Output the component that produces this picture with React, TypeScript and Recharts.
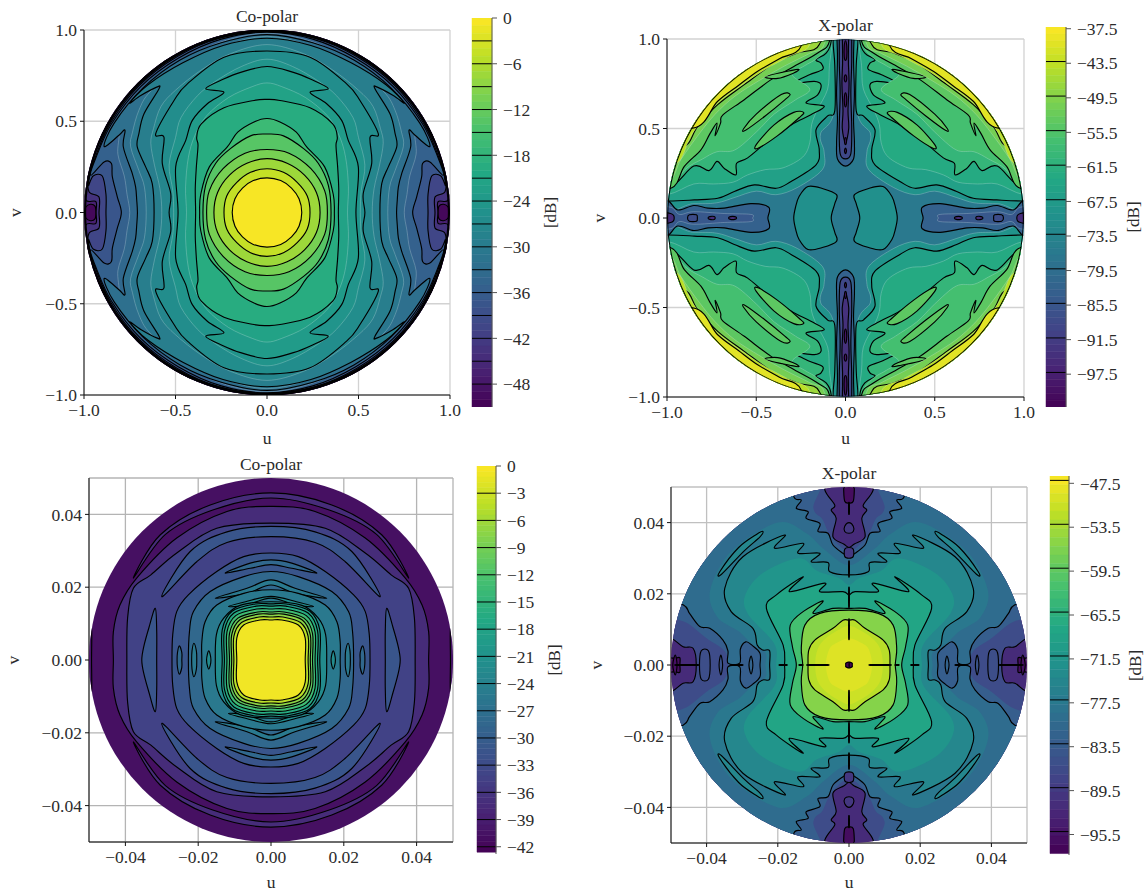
import { ScatterChart, BarChart, Scatter, Bar, XAxis, YAxis, CartesianGrid, ReferenceLine } from "recharts";

type Pt = [number, number];
type Kind = "ring" | "uLobe" | "vLobe" | "island";
type Contour = { level: number; kind: Kind; pts: Pt[]; fillDb?: number; line?: string; noFill?: boolean; width?: number };

const FONT = "'Liberation Serif', serif";
const FAINT = "rgba(225,240,240,0.38)";
const VIRIDIS = ["#440154", "#482475", "#414487", "#355f8d", "#2a788e", "#21918c", "#22a884", "#44bf70", "#7ad151", "#bddf26", "#fde725"];

function hex(c: string) {
  return [1, 3, 5].map((i) => parseInt(c.slice(i, i + 2), 16));
}
function viridis(t: number) {
  const x = Math.max(0, Math.min(0.9999, t)) * 10;
  const i = Math.floor(x);
  const a = hex(VIRIDIS[i]);
  const b = hex(VIRIDIS[i + 1]);
  const m = a.map((v, k) => Math.round(v + (b[k] - v) * (x - i)));
  return `rgb(${m[0]},${m[1]},${m[2]})`;
}

// ---------- tick labels and levels ----------
const wideTicks = [-1, -0.5, 0, 0.5, 1];
const wideMinor = [-0.9, -0.8, -0.7, -0.6, -0.4, -0.3, -0.2, -0.1, 0.1, 0.2, 0.3, 0.4, 0.6, 0.7, 0.8, 0.9];
const narrowTicks = [-0.04, -0.02, 0, 0.02, 0.04];
const narrowMinor = [-0.05, -0.045, -0.035, -0.03, -0.025, -0.015, -0.01, -0.005, 0.005, 0.01, 0.015, 0.025, 0.03, 0.035, 0.045, 0.05];

const barTicks1 = [0, -6, -12, -18, -24, -30, -36, -42, -48];
const barLines1 = [-3, -6, -9, -12, -15, -18, -21, -24, -27, -30, -33, -36, -39, -42, -45, -48];
const barTicks2 = [-37.5, -43.5, -49.5, -55.5, -61.5, -67.5, -73.5, -79.5, -85.5, -91.5, -97.5];
const barLines2 = [-43.2, -49.2, -55.2, -61.2, -67.2, -73.2, -79.2, -85.2, -91.2, -97.2];
const barTicks3 = [0, -3, -6, -9, -12, -15, -18, -21, -24, -27, -30, -33, -36, -39, -42];
const barLines3 = [-3, -6, -9, -12, -15, -18, -21, -24, -27, -30, -33, -36, -39, -42];
const barTicks4 = [-47.5, -53.5, -59.5, -65.5, -71.5, -77.5, -83.5, -89.5, -95.5];
const barLines4 = [-47.1, -53.1, -59.1, -65.1, -71.1, -77.1, -83.1, -89.1, -95.1];

// ---------- top left, co-polar, first quadrant of each contour ----------
const coWide: Contour[] = [
  { level: -51, kind: "ring", pts: [[1.3, 0], [1.3, 1.3], [0, 1.3]], line: "none" },
  { level: -48, kind: "ring", pts: [[0.985, 0], [1.05, 0.1], [1.05, 1.05], [0, 1.05]], line: "none" },
  { level: -45, kind: "ring", pts: [[0.935, 0], [0.935, 0.06], [0.99, 0.07], [0.98, 0.2], [0.87, 0.5], [0.71, 0.71], [0.5, 0.87], [0.26, 0.97], [0, 1.0]] },
  { level: -42, kind: "ring", pts: [[0.918, 0], [0.918, 0.085], [0.972, 0.113], [0.965, 0.2], [0.86, 0.495], [0.703, 0.703], [0.495, 0.86], [0.26, 0.96], [0, 0.996]] },
  { level: -39, kind: "ring", pts: [[0.88, 0], [0.88, 0.1], [0.9, 0.2], [0.95, 0.2], [0.975, 0.15], [0.95, 0.27], [0.855, 0.49], [0.697, 0.697], [0.49, 0.855], [0.26, 0.955], [0, 0.992]] },
  { level: -36, kind: "ring", fillDb: -35.3, pts: [[0.796, 0], [0.818, 0.086], [0.845, 0.195], [0.85, 0.268], [0.89, 0.277], [0.963, 0.204], [0.935, 0.3], [0.85, 0.485], [0.69, 0.69], [0.485, 0.845], [0.25, 0.95], [0, 0.988]] },
  { level: -34.5, kind: "ring", fillDb: -33.8, line: FAINT, pts: [[0.75, 0], [0.765, 0.1], [0.78, 0.2], [0.815, 0.32], [0.81, 0.43], [0.86, 0.39], [0.78, 0.56], [0.68, 0.68], [0.48, 0.82], [0.25, 0.935], [0, 0.982]] },
  { level: -33, kind: "ring", fillDb: -32.3, pts: [[0.708, 0], [0.712, 0.07], [0.718, 0.14], [0.736, 0.213], [0.785, 0.359], [0.776, 0.45], [0.809, 0.423], [0.89, 0.362], [0.835, 0.49], [0.68, 0.68], [0.475, 0.835], [0.25, 0.93], [0, 0.975]] },
  { level: -31.5, kind: "ring", fillDb: -30.8, line: FAINT, pts: [[0.66, 0], [0.67, 0.14], [0.7, 0.23], [0.745, 0.36], [0.735, 0.44], [0.7, 0.56], [0.64, 0.66], [0.48, 0.79], [0.24, 0.91], [0, 0.965]] },
  { level: -30, kind: "ring", fillDb: -29.3, pts: [[0.617, 0], [0.627, 0.158], [0.663, 0.25], [0.709, 0.359], [0.7, 0.432], [0.672, 0.541], [0.59, 0.678], [0.603, 0.687], [0.69, 0.641], [0.75, 0.6], [0.65, 0.7], [0.46, 0.82], [0.24, 0.915], [0, 0.955]] },
  { level: -28.5, kind: "ring", fillDb: -27.8, line: FAINT, pts: [[0.575, 0], [0.585, 0.13], [0.615, 0.26], [0.635, 0.38], [0.62, 0.46], [0.58, 0.58], [0.5, 0.67], [0.36, 0.78], [0.2, 0.87], [0, 0.92]] },
  { level: -27, kind: "ring", fillDb: -26.3, pts: [[0.535, 0], [0.526, 0.104], [0.572, 0.268], [0.563, 0.413], [0.608, 0.432], [0.508, 0.614], [0.435, 0.705], [0.235, 0.851], [0, 0.885]] },
  { level: -25.5, kind: "ring", fillDb: -24.8, line: FAINT, pts: [[0.51, 0], [0.515, 0.12], [0.535, 0.26], [0.5, 0.41], [0.47, 0.52], [0.38, 0.64], [0.28, 0.72], [0.14, 0.8], [0, 0.84]] },
  { level: -24, kind: "ring", fillDb: -23.3, pts: [[0.486, 0], [0.499, 0.25], [0.444, 0.395], [0.408, 0.505], [0.326, 0.596], [0.235, 0.659], [0.335, 0.678], [0.24, 0.73], [0.144, 0.768], [0, 0.8]] },
  { level: -22.5, kind: "ring", fillDb: -21.8, line: FAINT, pts: [[0.44, 0], [0.445, 0.14], [0.43, 0.3], [0.395, 0.42], [0.33, 0.53], [0.21, 0.63], [0.08, 0.69], [0, 0.71]] },
  { level: -21, kind: "ring", pts: [[0.39, 0], [0.392, 0.13], [0.386, 0.25], [0.377, 0.368], [0.384, 0.413], [0.359, 0.486], [0.235, 0.574], [0.071, 0.614], [0, 0.62]] },
  { level: -18, kind: "ring", pts: [[0.368, 0], [0.362, 0.1], [0.315, 0.25], [0.217, 0.359], [0.16, 0.44], [0.071, 0.496], [0, 0.515]] },
  { level: -15, kind: "ring", pts: [[0.35, 0], [0.335, 0.15], [0.28, 0.27], [0.2, 0.35], [0.09, 0.42], [0, 0.43]] },
  { level: -12, kind: "ring", pts: [[0.33, 0], [0.315, 0.12], [0.24, 0.24], [0.12, 0.325], [0, 0.345]] },
  { level: -9, kind: "ring", pts: [[0.29, 0], [0.27, 0.11], [0.205, 0.205], [0.11, 0.27], [0, 0.295]] },
  { level: -6, kind: "ring", pts: [[0.235, 0], [0.22, 0.09], [0.165, 0.165], [0.09, 0.22], [0, 0.24]] },
  { level: -3, kind: "ring", fillDb: -0.5, pts: [[0.19, 0], [0.175, 0.075], [0.134, 0.134], [0.075, 0.175], [0, 0.19]] },
  { level: -48, kind: "uLobe", pts: [[0.935, 0], [0.94, 0.035], [0.965, 0.045], [0.99, 0.03], [0.995, 0]], fillDb: -50 },
  { level: -48, kind: "ring", pts: [[1.002, 0], [0.968, 0.259], [0.868, 0.501], [0.708, 0.708], [0.501, 0.868], [0.259, 0.968], [0, 1.002]], noFill: true, width: 5 },
];

// ---------- top right, x-polar ----------
const xWide: Contour[] = [
  { level: -79.5, kind: "ring", pts: [[1.3, 0], [1.3, 1.3], [0, 1.3]], line: "none" },
  { level: -73.5, kind: "uLobe", pts: [[0.08, 0], [0.06, 0.08], [0.05, 0.13], [0.13, 0.165], [0.21, 0.176], [0.26, 0.12], [0.28, 0.06], [0.29, 0]] },
  { level: -70.5, kind: "island", fillDb: -69.5, line: FAINT, pts: [[0.06, 1.2], [0.06, 0.62], [0.14, 0.47], [0.12, 0.37], [0.13, 0.27], [0.27, 0.17], [0.39, 0.13], [0.5, 0.15], [0.62, 0.115], [0.72, 0.085], [0.85, 0.08], [1.2, 0.08], [1.2, 1.2]] },
  { level: -67.5, kind: "island", fillDb: -66, pts: [[0.07, 1.2], [0.07, 0.99], [0.06, 0.85], [0.06, 0.6], [0.1, 0.57], [0.165, 0.493], [0.147, 0.381], [0.165, 0.297], [0.305, 0.204], [0.389, 0.166], [0.511, 0.185], [0.623, 0.148], [0.716, 0.11], [0.847, 0.101], [0.993, 0.095], [1.2, 0.1], [1.2, 1.2]] },
  { level: -64.5, kind: "island", fillDb: -63, line: FAINT, pts: [[0.075, 1.2], [0.075, 0.99], [0.09, 0.85], [0.1, 0.72], [0.16, 0.6], [0.19, 0.52], [0.2, 0.42], [0.24, 0.34], [0.35, 0.28], [0.45, 0.27], [0.55, 0.24], [0.63, 0.2], [0.74, 0.19], [0.85, 0.19], [1, 0.13], [1.2, 0.13], [1.2, 1.2]] },
  { level: -61.5, kind: "island", fillDb: -60, pts: [[0.08, 1.2], [0.08, 0.99], [0.11, 0.92], [0.165, 0.885], [0.137, 0.865], [0.128, 0.83], [0.202, 0.8], [0.287, 0.754], [0.175, 0.763], [0.137, 0.744], [0.156, 0.688], [0.221, 0.642], [0.119, 0.624], [0.194, 0.577], [0.305, 0.52], [0.436, 0.428], [0.548, 0.336], [0.61, 0.306], [0.614, 0.241], [0.679, 0.277], [0.72, 0.316], [0.765, 0.265], [0.85, 0.29], [0.993, 0.166], [1.2, 0.17], [1.2, 1.2]] },
  { level: -58.5, kind: "island", fillDb: -57, line: FAINT, pts: [[0.085, 1.2], [0.09, 0.99], [0.15, 0.9], [0.23, 0.85], [0.3, 0.8], [0.2, 0.72], [0.28, 0.66], [0.4, 0.58], [0.5, 0.48], [0.62, 0.38], [0.72, 0.37], [0.8, 0.33], [0.9, 0.27], [1, 0.15], [1.2, 0.16], [1.2, 1.2]] },
  { level: -55.5, kind: "island", fillDb: -54, pts: [[0.09, 1.2], [0.09, 0.988], [0.156, 0.922], [0.287, 0.848], [0.417, 0.773], [0.567, 0.661], [0.688, 0.575], [0.7, 0.53], [0.73, 0.46], [0.72, 0.53], [0.76, 0.47], [0.81, 0.381], [0.903, 0.288], [0.978, 0.166], [1.2, 0.17], [1.2, 1.2]] },
  { level: -55.5, kind: "island", fillDb: -54, pts: [[0.26, 0.83], [0.3, 0.825], [0.45, 0.79], [0.38, 0.78], [0.29, 0.81]] },
  { level: -55.5, kind: "island", fillDb: -54, pts: [[0.31, 0.69], [0.36, 0.69], [0.5, 0.58], [0.57, 0.5], [0.56, 0.49], [0.45, 0.57], [0.34, 0.66]] },
  { level: -55.5, kind: "island", fillDb: -54, pts: [[0.235, 0.59], [0.29, 0.59], [0.4, 0.52], [0.5, 0.41], [0.49, 0.39], [0.38, 0.46], [0.26, 0.56]] },
  { level: -52.5, kind: "island", fillDb: -51, line: FAINT, pts: [[0.12, 1.2], [0.12, 0.97], [0.2, 0.92], [0.34, 0.85], [0.48, 0.77], [0.62, 0.68], [0.73, 0.58], [0.82, 0.47], [0.92, 0.33], [1, 0.2], [1.2, 0.25], [1.2, 1.2]] },
  { level: -49.5, kind: "island", fillDb: -47, pts: [[0.147, 1.2], [0.147, 0.969], [0.268, 0.922], [0.398, 0.866], [0.567, 0.745], [0.716, 0.633], [0.828, 0.512], [0.921, 0.39], [1.2, 0.4], [1.2, 1.2]] },
  { level: -46.5, kind: "island", fillDb: -44, line: FAINT, pts: [[0.2, 1.2], [0.2, 0.97], [0.32, 0.9], [0.45, 0.83], [0.6, 0.73], [0.73, 0.63], [0.86, 0.47], [0.96, 0.3], [1.2, 0.4], [1.2, 1.2]] },
  { level: -43.5, kind: "island", fillDb: -40, pts: [[0.25, 1.2], [0.249, 0.96], [0.37, 0.89], [0.492, 0.82], [0.6, 0.74], [0.716, 0.652], [0.856, 0.502], [1.2, 0.6], [1.2, 1.2]] },
  { level: -79.5, kind: "uLobe", pts: [[0.435, 0], [0.43, 0.06], [0.53, 0.08], [0.68, 0.055], [0.77, 0.055], [0.85, 0.07], [0.94, 0.045], [1.0, 0.1], [1.1, 0.1], [1.1, 0]], fillDb: -83 },
  { level: -85.5, kind: "uLobe", line: FAINT, pts: [[0.52, 0], [0.53, 0.02], [0.68, 0.025], [0.85, 0.035], [0.93, 0.02], [0.98, 0.06], [1.1, 0.06], [1.1, 0]], fillDb: -85 },
  { level: -91.5, kind: "uLobe", pts: [[0.96, 0], [0.98, 0.025], [1.1, 0.04], [1.1, 0]], fillDb: -95 },
  { level: -91.5, kind: "uLobe", pts: [[0.61, 0], [0.62, 0.008], [0.645, 0.008], [0.655, 0]], fillDb: -95 },
  { level: -91.5, kind: "uLobe", pts: [[0.73, 0], [0.735, 0.008], [0.76, 0.008], [0.77, 0]], fillDb: -95 },
  { level: -91.5, kind: "uLobe", pts: [[0.83, 0], [0.835, 0.018], [0.875, 0.018], [0.885, 0]], fillDb: -88 },
  { level: -79.5, kind: "vLobe", pts: [[0, 0.29], [0.045, 0.33], [0.05, 0.42], [0.045, 0.55], [0.05, 0.7], [0.045, 0.9], [0.05, 1.2], [0, 1.2]], fillDb: -83 },
  { level: -85.5, kind: "vLobe", pts: [[0, 0.33], [0.03, 0.36], [0.035, 0.5], [0.03, 0.7], [0.035, 0.9], [0.03, 1.2], [0, 1.2]], fillDb: -89 },
  { level: -91.5, kind: "vLobe", pts: [[0, 0.42], [0.018, 0.5], [0.014, 0.6], [0.02, 0.75], [0.016, 0.9], [0.02, 1.2], [0, 1.2]], fillDb: -94 },
  { level: -97.5, kind: "vLobe", pts: [[0, 0.88], [0.007, 0.9], [0.007, 0.96], [0, 0.99]], fillDb: -100 },
  { level: -97.5, kind: "vLobe", pts: [[0, 0.76], [0.006, 0.77], [0.006, 0.79], [0, 0.8]], fillDb: -100 },
  { level: -97.5, kind: "vLobe", pts: [[0, 0.62], [0.006, 0.64], [0.006, 0.68], [0, 0.7]], fillDb: -100 },
  { level: -97.5, kind: "vLobe", pts: [[0, 0.41], [0.005, 0.42], [0.005, 0.44], [0, 0.45]], fillDb: -100 },
  { level: -97.5, kind: "vLobe", pts: [[0, 0.36], [0.005, 0.37], [0.005, 0.38], [0, 0.39]], fillDb: -100 },
  { level: -37.5, kind: "ring", pts: [[0.997, 0], [0.963, 0.258], [0.863, 0.499], [0.705, 0.705], [0.499, 0.863], [0.258, 0.963], [0, 0.997]], noFill: true },
];

// ---------- bottom left, co-polar zoom ----------
const coNarrow: Contour[] = [
  { level: -45, kind: "ring", pts: [[0.065, 0], [0.065, 0.065], [0, 0.065]], line: "none", fillDb: -41 },
  { level: -42, kind: "uLobe", pts: [[0.0493, 0], [0.0493, 0.0087], [0.0502, 0.009], [0.0502, 0]] },
  { level: -39, kind: "ring", pts: [[0.0433, 0], [0.0433, 0.0078], [0.0415, 0.0151], [0.0369, 0.0225], [0.0259, 0.0335], [0.0121, 0.0408], [0, 0.0422]] },
  { level: -39, kind: "vLobe", pts: [[0, 0.0459], [0.0167, 0.0426], [0.0304, 0.0344], [0.0378, 0.0225], [0.029, 0.0345], [0.016, 0.0412], [0, 0.0445]] },
  { level: -36, kind: "ring", pts: [[0.0396, 0], [0.0394, 0.0115], [0.0378, 0.0197], [0.033, 0.0234], [0.0259, 0.0294], [0.0149, 0.0362], [0, 0.0376]] },
  { level: -33, kind: "uLobe", pts: [[0.0314, 0], [0.0314, 0.008], [0.0318, 0.0142], [0.0335, 0.009], [0.035, 0.0035], [0.0355, 0]] },
  { level: -33, kind: "vLobe", pts: [[0, 0.0367], [0.0121, 0.0352], [0.0222, 0.0298], [0.03, 0.0174], [0.0204, 0.027], [0.0121, 0.0323], [0, 0.0339]] },
  { level: -33, kind: "ring", pts: [[0.0272, 0], [0.027, 0.0069], [0.0259, 0.0133], [0.0227, 0.0179], [0.0149, 0.0243], [0.0075, 0.0284], [0, 0.0294]] },
  { level: -30, kind: "uLobe", pts: [[0.0245, 0], [0.0245, 0.002], [0.0252, 0.0039], [0.0257, 0.002], [0.0258, 0]] },
  { level: -30, kind: "vLobe", pts: [[0, 0.0262], [0.0057, 0.0252], [0.0126, 0.0239], [0.0057, 0.0266], [0, 0.0275]] },
  { level: -30, kind: "ring", pts: [[0.0227, 0], [0.0224, 0.0078], [0.0213, 0.0133], [0.0167, 0.0188], [0.0075, 0.0229], [0, 0.0243]] },
  { level: -27, kind: "uLobe", pts: [[0.0204, 0], [0.0205, 0.0025], [0.0212, 0.0046], [0.0217, 0.0025], [0.0218, 0]] },
  { level: -27, kind: "vLobe", pts: [[0, 0.0206], [0.0066, 0.0183], [0.0153, 0.017], [0.0066, 0.0197], [0, 0.022]] },
  { level: -27, kind: "ring", pts: [[0.019, 0], [0.019, 0.005], [0.0181, 0.0105], [0.0149, 0.0151], [0.0075, 0.0183], [0, 0.0193]] },
  { level: -24, kind: "uLobe", pts: [[0.0165, 0], [0.0167, 0.0015], [0.0171, 0.0025], [0.0175, 0.0015], [0.0177, 0]] },
  { level: -24, kind: "vLobe", pts: [[0, 0.017], [0.007, 0.015], [0.0117, 0.0147], [0.007, 0.016], [0, 0.0175]] },
  { level: -24, kind: "ring", pts: [[0.0153, 0], [0.015, 0.007], [0.013, 0.0115], [0.0085, 0.015], [0, 0.016]] },
  { level: -21, kind: "ring", pts: [[0.0134, 0], [0.0134, 0.0083], [0.0107, 0.0134], [0.0043, 0.0154], [0, 0.0154]] },
  { level: -18, kind: "ring", pts: [[0.0128, 0], [0.0128, 0.008], [0.0102, 0.0129], [0.0041, 0.0148], [0, 0.0148]] },
  { level: -15, kind: "ring", pts: [[0.0121, 0], [0.0121, 0.0077], [0.0097, 0.0122], [0.0039, 0.014], [0, 0.014]] },
  { level: -12, kind: "ring", pts: [[0.0114, 0], [0.0114, 0.0073], [0.0091, 0.0115], [0.0036, 0.0132], [0, 0.0132]] },
  { level: -9, kind: "ring", pts: [[0.0108, 0], [0.0108, 0.0069], [0.0086, 0.011], [0.0035, 0.0126], [0, 0.0126]] },
  { level: -6, kind: "ring", pts: [[0.0102, 0], [0.0102, 0.0065], [0.0081, 0.0103], [0.0033, 0.0118], [0, 0.0118]] },
  { level: -3, kind: "ring", fillDb: -0.8, pts: [[0.0094, 0], [0.0094, 0.006], [0.0075, 0.0096], [0.003, 0.011], [0, 0.011]] },
];

// ---------- bottom right, x-polar zoom ----------
const xNarrow: Contour[] = [
  { level: -98, kind: "ring", pts: [[0.065, 0], [0.065, 0.065], [0, 0.065]], line: "none", fillDb: -96.5 },
  { level: -95, kind: "ring", fillDb: -92, pts: [[0.0475, 0], [0.0475, 0.002], [0.0485, 0.002], [0.05, 0.002], [0.055, 0.003], [0.055, 0.055], [0.0015, 0.055], [0.0015, 0.0495], [0.0012, 0.046], [0, 0.0455]] },
  { level: -89, kind: "ring", fillDb: -86.5, pts: [[0.0429, 0], [0.0438, 0.0047], [0.0466, 0.0051], [0.0499, 0.0075], [0.055, 0.009], [0.055, 0.055], [0.0068, 0.055], [0.0068, 0.0492], [0.004, 0.0449], [0.005, 0.0435], [0.0036, 0.0412], [0.0045, 0.036], [0.0015, 0.034], [0, 0.033]] },
  { level: -86, kind: "ring", fillDb: -83, line: "none", pts: [[0.034, 0], [0.035, 0.004], [0.04, 0.0075], [0.045, 0.0115], [0.05, 0.014], [0.055, 0.02], [0.055, 0.055], [0.011, 0.055], [0.01, 0.044], [0.0075, 0.041], [0.005, 0.036], [0, 0.032]] },
  { level: -83, kind: "ring", fillDb: -80, pts: [[0.025, 0], [0.025, 0.0033], [0.0272, 0.0055], [0.029, 0.0065], [0.0305, 0.0045], [0.0307, 0.0005], [0.034, 0.0005], [0.034, 0.004], [0.0354, 0.007], [0.0391, 0.0103], [0.0419, 0.0108], [0.0448, 0.0145], [0.0466, 0.0169], [0.055, 0.02], [0.055, 0.055], [0.016, 0.055], [0.0155, 0.0473], [0.0134, 0.0463], [0.0148, 0.044], [0.0115, 0.0431], [0.012, 0.0412], [0.0082, 0.0398], [0.0087, 0.0375], [0.0059, 0.037], [0.0045, 0.0337], [0.0017, 0.0314], [0, 0.0305]] },
  { level: -80, kind: "ring", fillDb: -77.5, line: "none", pts: [[0.0235, 0], [0.0235, 0.0035], [0.0275, 0.0062], [0.031, 0.0095], [0.037, 0.0135], [0.039, 0.021], [0.033, 0.032], [0.02, 0.04], [0.012, 0.037], [0.007, 0.0325], [0, 0.028]] },
  { level: -77, kind: "ring", fillDb: -74.5, pts: [[0.0223, 0], [0.0223, 0.004], [0.0242, 0.0042], [0.0258, 0.0056], [0.027, 0.0103], [0.0331, 0.015], [0.0349, 0.0215], [0.0298, 0.0304], [0.0181, 0.0365], [0.0209, 0.0328], [0.0129, 0.0342], [0.0143, 0.0314], [0.0082, 0.0314], [0.0106, 0.029], [0.0059, 0.0288], [0.0054, 0.0262], [0, 0.0253]] },
  { level: -77, kind: "island", fillDb: -74.5, pts: [[0.0242, 0.0375], [0.0258, 0.0368], [0.031, 0.033], [0.0363, 0.0262], [0.0358, 0.0255], [0.0295, 0.032], [0.025, 0.036]] },
  { level: -74, kind: "ring", fillDb: -71.5, line: "none", pts: [[0.0205, 0], [0.021, 0.006], [0.0285, 0.0145], [0.029, 0.02], [0.024, 0.026], [0.014, 0.03], [0.009, 0.0265], [0.003, 0.0245], [0, 0.0225]] },
  { level: -71, kind: "ring", pts: [[0.0181, 0], [0.0185, 0.0056], [0.0232, 0.0159], [0.0204, 0.0197], [0.0129, 0.0248], [0.0167, 0.0206], [0.0068, 0.023], [0.0082, 0.0206], [0.0017, 0.0206], [0, 0.0197]] },
  { level: -65, kind: "ring", pts: [[0.0148, 0], [0.0159, 0.0052], [0.0165, 0.0112], [0.0129, 0.015], [0.0073, 0.018], [0.0101, 0.0145], [0.0045, 0.0159], [0, 0.0159]] },
  { level: -59, kind: "ring", pts: [[0.013, 0], [0.0134, 0.0047], [0.0124, 0.0112], [0.0082, 0.0145], [0, 0.0154]] },
  { level: -53, kind: "ring", fillDb: -52, pts: [[0.0115, 0], [0.0113, 0.0042], [0.0096, 0.007], [0.0045, 0.0103], [0.0017, 0.0126], [0, 0.0126]] },
  { level: -50, kind: "ring", fillDb: -50.5, line: "none", pts: [[0.0095, 0], [0.0088, 0.0045], [0.0065, 0.0075], [0.003, 0.0098], [0, 0.011]] },
  { level: -49, kind: "ring", fillDb: -49, line: "none", pts: [[0.0065, 0], [0.0055, 0.0045], [0.0035, 0.0062], [0, 0.0075]] },
  { level: -89, kind: "uLobe", pts: [[0.027, 0], [0.0275, 0.0025], [0.0281, 0]], fillDb: -82 },
  { level: -89, kind: "uLobe", pts: [[0.0355, 0], [0.036, 0.0028], [0.0365, 0]], fillDb: -85 },
  { level: -89, kind: "uLobe", pts: [[0.039, 0], [0.0395, 0.004], [0.0415, 0.004], [0.042, 0]], fillDb: -86 },
  { level: -95, kind: "uLobe", pts: [[0.0483, 0], [0.0488, 0.0028], [0.0495, 0]], fillDb: -96 },
  { level: -47, kind: "uLobe", pts: [[0, 0], [0, 0.0008], [0.0009, 0.0005], [0.0009, 0]], fillDb: -98 },
  { level: -47, kind: "uLobe", pts: [[0.006, 0], [0.006, 0.0001], [0.0115, 0.0001], [0.0115, 0]], noFill: true },
  { level: -47, kind: "uLobe", pts: [[0.013, 0], [0.013, 0.0001], [0.014, 0.0001], [0.014, 0]], noFill: true },
  { level: -47, kind: "uLobe", pts: [[0.0175, 0], [0.0175, 0.0001], [0.0195, 0.0001], [0.0195, 0]], noFill: true },
  { level: -47, kind: "uLobe", pts: [[0.03, 0], [0.03, 0.0001], [0.033, 0.0001], [0.033, 0]], noFill: true },
  { level: -47, kind: "uLobe", pts: [[0.0425, 0], [0.0425, 0.0001], [0.0485, 0.0001], [0.0485, 0]], noFill: true },
  { level: -47, kind: "vLobe", pts: [[0, 0.0075], [0.0001, 0.0075], [0.0001, 0.0126], [0, 0.0126]], noFill: true },
  { level: -47, kind: "vLobe", pts: [[0, 0.0165], [0.0001, 0.0165], [0.0001, 0.0215], [0, 0.0215]], noFill: true },
  { level: -47, kind: "vLobe", pts: [[0, 0.025], [0.0001, 0.025], [0.0001, 0.029], [0, 0.029]], noFill: true },
  { level: -47, kind: "vLobe", pts: [[0, 0.03], [0.0012, 0.0305], [0.0012, 0.0325], [0, 0.033]], fillDb: -90 },
  { level: -47, kind: "vLobe", pts: [[0, 0.037], [0.0012, 0.0375], [0.0012, 0.039], [0, 0.04]], fillDb: -90 },
  { level: -47, kind: "vLobe", pts: [[0, 0.0425], [0.0001, 0.0425], [0.0001, 0.0455], [0, 0.0455]], noFill: true },
];

// ---------- geometry helpers ----------
function expand(c: Contour): Pt[][] {
  const p = c.pts;
  const mx = (a: Pt[]): Pt[] => a.map(([u, v]) => [-u, v] as Pt).reverse();
  const my = (a: Pt[]): Pt[] => a.map(([u, v]) => [u, -v] as Pt).reverse();
  if (c.kind === "ring") {
    const top = [...p, ...mx(p).slice(1)];
    return [[...top, ...my(top).slice(1, -1)]];
  }
  if (c.kind === "uLobe") {
    const right = [...p, ...my(p).slice(1, -1)];
    return [right, mx(right)];
  }
  if (c.kind === "vLobe") {
    const up = [...p, ...mx(p).slice(1, -1)];
    return [up, my(up)];
  }
  return [p, mx(p), my(p), my(mx(p))];
}

// closed smooth path through the scaled points the Scatter line hands over
function closedPath(pts: { x: number; y: number }[]) {
  const n = pts.length;
  let d = `M${pts[0].x},${pts[0].y}`;
  for (let i = 0; i < n; i++) {
    const a = pts[(i - 1 + n) % n];
    const b = pts[i];
    const c = pts[(i + 1) % n];
    const e = pts[(i + 2) % n];
    const k = 1 / 6;
    d += `C${b.x + (c.x - a.x) * k},${b.y + (c.y - a.y) * k} ${c.x - (e.x - b.x) * k},${c.y - (e.y - b.y) * k} ${c.x},${c.y}`;
  }
  return d + "Z";
}

const fmt = (digits: number) => (n: number) => {
  const s = Math.abs(n).toFixed(digits);
  return n < 0 ? `\u2212${s}` : s;
};

const tickStyle = { fontSize: 17.5, fill: "#2b2b2b", fontFamily: FONT };
const PAD = 100;

type PanelProps = {
  id: string;
  title: string;
  box: [number, number, number, number];
  dom: number;
  ticks: number[];
  minor: number[];
  digits: number;
  grid: string;
  range: [number, number];
  step: number;
  contours: Contour[];
  vX: number;
  uDy: number;
};

function Panel({ id, title, box, dom, ticks, minor, digits, grid, range, step, contours, vX, uDy }: PanelProps) {
  const [x0, y0, x1, y1] = box;
  const W = x1 - x0;
  const H = y1 - y0;
  const polys = contours.flatMap((c, ci) =>
    expand(c).map((poly, pi) => {
      const db = c.fillDb ?? c.level + step / 2;
      const t = (db - range[0]) / (range[1] - range[0]);
      const stroke = c.line ?? "#000";
      return {
        key: `${ci}-${pi}`,
        fill: c.noFill ? "none" : viridis(t),
        stroke,
        width: c.width ?? (stroke === FAINT ? 0.7 : 1.15),
        data: poly.map(([u, v]) => ({ u, v })),
      };
    })
  );
  return (
    <div style={{ position: "absolute", left: x0 - PAD, top: y0 - 30 }}>
      <ScatterChart width={W + PAD + 20} height={H + 90} margin={{ left: PAD - 60, right: 20, top: 30, bottom: 30 }}>
        <defs>
          <clipPath id={id}>
            <circle cx={PAD + W / 2} cy={30 + H / 2} r={W / 2} />
          </clipPath>
        </defs>
        <CartesianGrid stroke={grid} strokeWidth={1.3} />
        <XAxis xAxisId="minor" type="number" domain={[-dom, dom]} allowDataOverflow ticks={minor} interval={0} height={0} tick={false} tickSize={2.5} axisLine={false} stroke="#111" />
        <YAxis yAxisId="minor" type="number" domain={[-dom, dom]} allowDataOverflow ticks={minor} interval={0} width={0} tick={false} tickSize={2.5} axisLine={false} stroke="#111" />
        <XAxis dataKey="u" type="number" domain={[-dom, dom]} allowDataOverflow ticks={ticks} interval={0} height={30} tickSize={4} tickMargin={5} tick={tickStyle} tickFormatter={fmt(digits)} stroke="#111" />
        <YAxis dataKey="v" type="number" domain={[-dom, dom]} allowDataOverflow ticks={ticks} interval={0} width={60} tickSize={4} tickMargin={3} tick={tickStyle} tickFormatter={fmt(digits)} stroke="#111" />
        <XAxis xAxisId="top" orientation="top" type="number" domain={[-dom, dom]} allowDataOverflow height={0} tick={false} tickLine={false} stroke="#111" />
        <YAxis yAxisId="right" orientation="right" type="number" domain={[-dom, dom]} allowDataOverflow width={0} tick={false} tickLine={false} stroke="#111" />
        {polys.map((p) => (
          <Scatter
            key={p.key}
            data={p.data}
            isAnimationActive={false}
            shape={() => null}
            line={(lp: any) => (
              <g clipPath={`url(#${id})`}>
                <path d={closedPath(lp.points)} fill={p.fill} stroke={p.stroke} strokeWidth={p.width} strokeLinejoin="round" />
              </g>
            )}
          />
        ))}
        <text x={PAD + W / 2} y={22} textAnchor="middle" fontFamily={FONT} fontSize={17.5} fill="#2b2b2b">{title}</text>
        <text x={PAD + W / 2} y={30 + H + uDy} textAnchor="middle" fontFamily={FONT} fontSize={17.5} fill="#2b2b2b">u</text>
        <text x={0} y={0} transform={`translate(${vX + 4 - (x0 - PAD)},${30 + H / 2}) rotate(-90)`} textAnchor="middle" fontFamily={FONT} fontSize={17.5} fill="#2b2b2b">v</text>
      </ScatterChart>
    </div>
  );
}

type BarProps = {
  box: [number, number, number, number];
  range: [number, number];
  ticks: number[];
  lines: number[];
  sub: number;
  digits: number;
  labelX: number;
};

function ColorBar({ box, range, ticks, lines, sub, digits, labelX }: BarProps) {
  const [x0, y0, x1, y1] = box;
  const W = x1 - x0;
  const H = y1 - y0;
  const count = Math.round((range[1] - range[0]) / sub);
  const bands = Array.from({ length: count }, (_, i) => i);
  const row: Record<string, number | string> = { name: "bar", off: range[1] };
  bands.forEach((i) => (row[`b${i}`] = -sub));
  return (
    <div style={{ position: "absolute", left: x0 - 10, top: y0 - 10 }}>
      <BarChart width={W + 95} height={H + 20} data={[row]} margin={{ left: 10, right: 5, top: 10, bottom: 10 }} barCategoryGap={0}>
        <XAxis dataKey="name" height={0} tick={false} tickLine={false} stroke="#555" />
        <XAxis xAxisId="top" dataKey="name" orientation="top" height={0} tick={false} tickLine={false} stroke="#555" />
        <YAxis yAxisId="left" type="number" domain={range} allowDataOverflow width={0} tick={false} tickLine={false} stroke="#555" />
        <YAxis orientation="right" type="number" domain={range} allowDataOverflow ticks={ticks} interval={0} width={80} tickSize={5} tickMargin={6} tick={{ ...tickStyle, textAnchor: "start" }} tickFormatter={fmt(digits)} stroke="#555" />
        <Bar dataKey="off" stackId="s" fill="none" isAnimationActive={false} />
        {bands.map((i) => (
          <Bar
            key={i}
            dataKey={`b${i}`}
            stackId="s"
            isAnimationActive={false}
            fill={viridis((count - i - 0.5) / count)}
            stroke={viridis((count - i - 0.5) / count)}
            strokeWidth={0.5}
          />
        ))}
        {lines.map((y) => (
          <ReferenceLine key={y} y={y} stroke="#000" strokeWidth={1} ifOverflow="hidden" />
        ))}
        <text x={0} y={0} transform={`translate(${labelX - x0 + 10},${10 + H / 2}) rotate(-90)`} textAnchor="middle" fontFamily={FONT} fontSize={17} fill="#2b2b2b">[dB]</text>
      </BarChart>
    </div>
  );
}

export default function App() {
  return (
    <div style={{ position: "absolute", left: 0, top: 0, width: 1148, height: 892, background: "#fff", overflow: "hidden" }}>
      <Panel id="c1" title="Co-polar" box={[84, 30, 450, 395]} dom={1} ticks={wideTicks} minor={wideMinor} digits={1} grid="#d2d2d2" range={[-51, 0]} step={3} contours={coWide} vX={17} uDy={49} />
      <ColorBar box={[472, 18, 492, 407]} range={[-51, 0]} ticks={barTicks1} lines={barLines1} sub={1} digits={0} labelX={556} />
      <Panel id="c2" title="X-polar" box={[667, 39, 1024, 397]} dom={1} ticks={wideTicks} minor={wideMinor} digits={1} grid="#d2d2d2" range={[-103.2, -37.2]} step={6} contours={xWide} vX={601} uDy={47} />
      <ColorBar box={[1046, 27, 1066, 407]} range={[-103.2, -37.2]} ticks={barTicks2} lines={barLines2} sub={1.2} digits={1} labelX={1139} />
      <Panel id="c3" title="Co-polar" box={[89, 478, 453, 842]} dom={0.05} ticks={narrowTicks} minor={narrowMinor} digits={2} grid="#b4b4b4" range={[-42.8, 0]} step={3} contours={coNarrow} vX={15} uDy={46} />
      <ColorBar box={[477, 466, 496, 854]} range={[-42.8, 0]} ticks={barTicks3} lines={barLines3} sub={0.6} digits={0} labelX={560} />
      <Panel id="c4" title="X-polar" box={[671, 487, 1027, 843]} dom={0.05} ticks={narrowTicks} minor={narrowMinor} digits={2} grid="#c0c0c0" range={[-98.3, -46.5]} step={6} contours={xNarrow} vX={598} uDy={45} />
      <ColorBar box={[1050, 476, 1069, 855]} range={[-98.3, -46.5]} ticks={barTicks4} lines={barLines4} sub={1.2} digits={1} labelX={1141} />
    </div>
  );
}
